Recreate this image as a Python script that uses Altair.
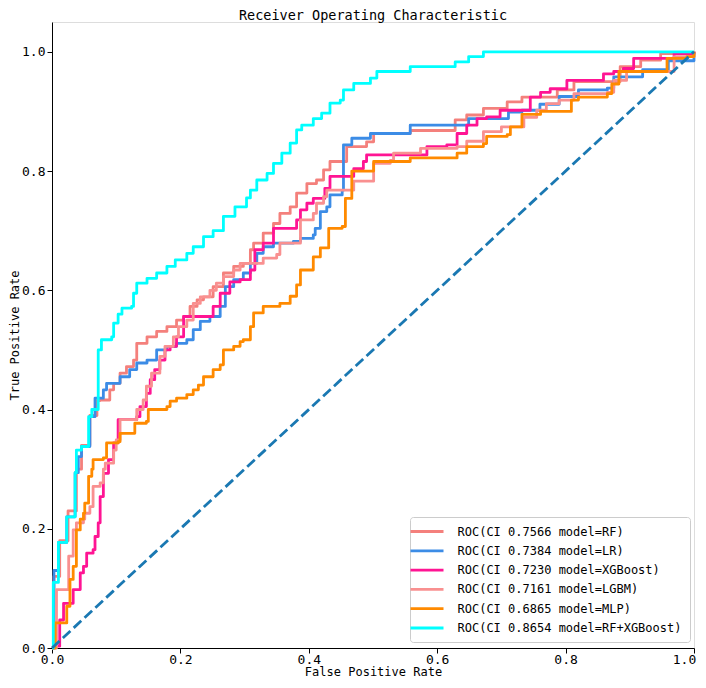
import altair as alt
import pandas as pd

# ---- data ----
labels = [
    "ROC(CI 0.7566 model=RF)",
    "ROC(CI 0.7384 model=LR)",
    "ROC(CI 0.7230 model=XGBoost)",
    "ROC(CI 0.7161 model=LGBM)",
    "ROC(CI 0.6865 model=MLP)",
    "ROC(CI 0.8654 model=RF+XGBoost)",
]
colors = ["#F4807C", "#3C8CE6", "#FF1493", "#F99090", "#FF8A00", "#00FFFF"]

rf_fpr = [0, 0.003, 0.012, 0.025, 0.038, 0.046, 0.059, 0.07, 0.075, 0.09, 0.096, 0.106, 0.116, 0.127, 0.132, 0.148, 0.163, 0.179, 0.194, 0.205, 0.215, 0.226, 0.236, 0.251, 0.267, 0.283, 0.298, 0.309, 0.314, 0.329, 0.345, 0.355, 0.371, 0.381, 0.397, 0.412, 0.423, 0.433, 0.454, 0.459, 0.49, 0.501, 0.558, 0.628, 0.628, 0.646, 0.672, 0.709, 0.732, 0.787, 0.813, 0.875, 0.885, 0.917, 0.948, 1.0]
rf_tpr = [0, 0.12, 0.18, 0.23, 0.30, 0.34, 0.39, 0.415, 0.416, 0.433, 0.444, 0.461, 0.472, 0.483, 0.511, 0.522, 0.531, 0.539, 0.55, 0.556, 0.573, 0.584, 0.589, 0.606, 0.629, 0.64, 0.645, 0.668, 0.679, 0.696, 0.712, 0.729, 0.74, 0.763, 0.779, 0.785, 0.802, 0.816, 0.816, 0.841, 0.849, 0.863, 0.868, 0.877, 0.886, 0.894, 0.905, 0.916, 0.924, 0.936, 0.95, 0.95, 0.975, 0.986, 0.997, 1.0]

lr_fpr = [0, 0.003, 0.01, 0.023, 0.036, 0.041, 0.046, 0.059, 0.067, 0.08, 0.085, 0.106, 0.121, 0.132, 0.148, 0.163, 0.179, 0.194, 0.21, 0.22, 0.231, 0.246, 0.262, 0.27, 0.283, 0.298, 0.309, 0.319, 0.329, 0.345, 0.376, 0.387, 0.407, 0.41, 0.418, 0.418, 0.428, 0.433, 0.452, 0.454, 0.467, 0.496, 0.558, 0.558, 0.646, 0.649, 0.709, 0.711, 0.732, 0.76, 0.79, 0.82, 0.865, 0.875, 0.92, 0.96, 1.0]
lr_tpr = [0, 0.13, 0.177, 0.22, 0.294, 0.321, 0.338, 0.388, 0.419, 0.433, 0.444, 0.455, 0.467, 0.478, 0.483, 0.50, 0.506, 0.511, 0.517, 0.534, 0.548, 0.556, 0.573, 0.606, 0.618, 0.629, 0.645, 0.662, 0.673, 0.679, 0.682, 0.687, 0.693, 0.704, 0.718, 0.732, 0.74, 0.76, 0.768, 0.844, 0.855, 0.863, 0.866, 0.877, 0.877, 0.888, 0.888, 0.899, 0.902, 0.912, 0.925, 0.936, 0.939, 0.958, 0.97, 0.985, 1.0]

xgb_fpr = [0, 0.002, 0.012, 0.018, 0.031, 0.033, 0.044, 0.049, 0.054, 0.064, 0.067, 0.072, 0.075, 0.08, 0.088, 0.096, 0.103, 0.132, 0.137, 0.147, 0.153, 0.16, 0.168, 0.176, 0.184, 0.194, 0.205, 0.246, 0.251, 0.262, 0.277, 0.293, 0.309, 0.316, 0.329, 0.345, 0.374, 0.381, 0.387, 0.397, 0.407, 0.423, 0.425, 0.433, 0.454, 0.47, 0.485, 0.49, 0.568, 0.584, 0.615, 0.631, 0.646, 0.662, 0.677, 0.698, 0.732, 0.745, 0.761, 0.776, 0.802, 0.833, 0.859, 0.875, 0.89, 0.906, 0.948, 0.969, 1.0]
xgb_tpr = [0, 0.003, 0.047, 0.075, 0.075, 0.098, 0.126, 0.137, 0.159, 0.165, 0.187, 0.21, 0.254, 0.293, 0.316, 0.344, 0.383, 0.388, 0.405, 0.427, 0.45, 0.467, 0.483, 0.50, 0.506, 0.522, 0.556, 0.556, 0.573, 0.595, 0.614, 0.618, 0.634, 0.668, 0.679, 0.704, 0.704, 0.718, 0.735, 0.746, 0.754, 0.754, 0.771, 0.791, 0.791, 0.804, 0.816, 0.827, 0.827, 0.841, 0.844, 0.863, 0.877, 0.888, 0.891, 0.902, 0.902, 0.924, 0.932, 0.938, 0.952, 0.952, 0.963, 0.967, 0.972, 0.989, 0.989, 0.997, 1.0]

lgbm_fpr = [0, 0.007, 0.02, 0.026, 0.033, 0.038, 0.049, 0.051, 0.059, 0.064, 0.075, 0.08, 0.083, 0.093, 0.096, 0.1, 0.106, 0.106, 0.127, 0.132, 0.142, 0.147, 0.155, 0.168, 0.176, 0.189, 0.197, 0.21, 0.22, 0.231, 0.246, 0.256, 0.267, 0.283, 0.293, 0.314, 0.329, 0.35, 0.355, 0.387, 0.387, 0.407, 0.412, 0.423, 0.428, 0.465, 0.47, 0.498, 0.501, 0.527, 0.532, 0.574, 0.631, 0.646, 0.672, 0.7, 0.735, 0.755, 0.77, 0.79, 0.813, 0.865, 0.875, 0.895, 0.927, 0.969, 1.0]
lgbm_tpr = [0, 0.098, 0.098, 0.154, 0.198, 0.21, 0.216, 0.226, 0.237, 0.271, 0.277, 0.30, 0.31, 0.31, 0.332, 0.349, 0.366, 0.383, 0.383, 0.40, 0.416, 0.439, 0.461, 0.489, 0.506, 0.522, 0.539, 0.55, 0.578, 0.589, 0.60, 0.612, 0.623, 0.634, 0.645, 0.645, 0.654, 0.66, 0.679, 0.69, 0.718, 0.729, 0.746, 0.757, 0.768, 0.768, 0.783, 0.783, 0.813, 0.818, 0.83, 0.838, 0.841, 0.85, 0.866, 0.874, 0.89, 0.902, 0.913, 0.919, 0.93, 0.932, 0.952, 0.967, 0.967, 0.992, 1.0]

mlp_fpr = [0, 0.005, 0.02, 0.023, 0.028, 0.033, 0.038, 0.044, 0.049, 0.051, 0.057, 0.062, 0.064, 0.08, 0.085, 0.103, 0.106, 0.127, 0.129, 0.147, 0.15, 0.179, 0.184, 0.194, 0.21, 0.22, 0.228, 0.236, 0.251, 0.262, 0.267, 0.283, 0.293, 0.298, 0.309, 0.314, 0.329, 0.355, 0.371, 0.381, 0.387, 0.407, 0.418, 0.431, 0.452, 0.457, 0.467, 0.467, 0.498, 0.501, 0.558, 0.631, 0.646, 0.672, 0.677, 0.709, 0.714, 0.732, 0.761, 0.807, 0.809, 0.82, 0.865, 0.872, 0.883, 0.927, 0.958, 0.989, 1.0]
mlp_tpr = [0, 0.042, 0.042, 0.07, 0.115, 0.137, 0.198, 0.216, 0.226, 0.243, 0.288, 0.30, 0.316, 0.319, 0.344, 0.346, 0.36, 0.36, 0.377, 0.38, 0.40, 0.405, 0.414, 0.419, 0.425, 0.433, 0.441, 0.455, 0.467, 0.475, 0.50, 0.506, 0.514, 0.517, 0.539, 0.562, 0.573, 0.578, 0.59, 0.609, 0.634, 0.656, 0.671, 0.704, 0.707, 0.754, 0.763, 0.80, 0.80, 0.816, 0.822, 0.83, 0.841, 0.846, 0.858, 0.861, 0.874, 0.895, 0.90, 0.90, 0.919, 0.924, 0.93, 0.946, 0.967, 0.967, 0.989, 0.992, 1.0]

ens_fpr = [0, 0.002, 0.01, 0.023, 0.036, 0.038, 0.046, 0.057, 0.062, 0.072, 0.072, 0.077, 0.093, 0.096, 0.103, 0.109, 0.124, 0.127, 0.132, 0.148, 0.163, 0.179, 0.192, 0.21, 0.22, 0.236, 0.251, 0.267, 0.285, 0.303, 0.309, 0.319, 0.335, 0.345, 0.358, 0.371, 0.381, 0.389, 0.407, 0.42, 0.433, 0.449, 0.454, 0.47, 0.496, 0.506, 0.558, 0.628, 0.649, 0.672, 1.0]
ens_tpr = [0, 0.11, 0.177, 0.22, 0.294, 0.332, 0.338, 0.388, 0.40, 0.40, 0.50, 0.517, 0.522, 0.545, 0.56, 0.57, 0.573, 0.595, 0.612, 0.62, 0.629, 0.64, 0.651, 0.662, 0.673, 0.69, 0.70, 0.724, 0.74, 0.755, 0.768, 0.785, 0.796, 0.813, 0.83, 0.847, 0.869, 0.877, 0.888, 0.897, 0.914, 0.919, 0.936, 0.947, 0.956, 0.967, 0.975, 0.983, 0.992, 1.0, 1.0]

diag_x = [0.0, 1.0]
diag_y = [0.0, 1.0]

tick_values = [0, 0.2, 0.4, 0.6, 0.8, 1.0]

series = [
    (labels[0], rf_fpr, rf_tpr),
    (labels[1], lr_fpr, lr_tpr),
    (labels[2], xgb_fpr, xgb_tpr),
    (labels[3], lgbm_fpr, lgbm_tpr),
    (labels[4], mlp_fpr, mlp_tpr),
    (labels[5], ens_fpr, ens_tpr),
]

frames = []
for lab, fx, fy in series:
    frames.append(pd.DataFrame({"fpr": fx, "tpr": fy, "model": lab, "idx": list(range(len(fx)))}))
df = pd.concat(frames, ignore_index=True)
diag = pd.DataFrame({"fpr": diag_x, "tpr": diag_y})

MONO = "DejaVu Sans Mono"

x_enc = alt.X(
    "fpr:Q",
    scale=alt.Scale(domain=[0, 1], nice=False, zero=False),
    axis=alt.Axis(
        values=tick_values, format=".1f", grid=False,
        title="False Positive Rate", titleFont=MONO, titleFontSize=12,
        titleFontWeight="normal", titleColor="black", titlePadding=0,
        labelFont=MONO, labelFontSize=13, labelColor="black", labelPadding=0,
        labelOffset={"condition": {"test": "datum.value >= 1", "value": -10}, "value": 0},
        tickSize=5, tickColor="black", domainColor="black", labelFlush=False,
    ),
)
y_enc = alt.Y(
    "tpr:Q",
    scale=alt.Scale(domain=[0, 1.05], nice=False, zero=False),
    axis=alt.Axis(
        values=tick_values, format=".1f", grid=False,
        title="True Positive Rate", titleFont=MONO, titleFontSize=12,
        titleFontWeight="normal", titleColor="black", titlePadding=0,
        labelFont=MONO, labelFontSize=13, labelColor="black", labelPadding=2,
        tickSize=5, tickColor="black", domainColor="black", labelFlush=False,
    ),
)

color_enc = alt.Color(
    "model:N",
    scale=alt.Scale(domain=labels, range=colors),
    sort=labels,
    legend=alt.Legend(
        title=None, orient="none", legendX=358, legendY=495,
        fillColor="white", strokeColor="#cccccc", cornerRadius=3, padding=8,
        symbolType="M-3.3,0H3.3", symbolSize=100, symbolStrokeWidth=2.8,
        symbolOffset=2.5, labelOffset=24, rowPadding=6.3,
        labelFont=MONO, labelFontSize=12, labelColor="black", labelLimit=0,
    ),
)

layers = []
for lab, _, _ in series:
    layers.append(
        alt.Chart(df)
        .transform_filter(alt.datum.model == lab)
        .mark_line(strokeWidth=2.8, interpolate="step-after", strokeJoin="round")
        .encode(x=x_enc, y=y_enc, color=color_enc, order=alt.Order("idx:Q"))
    )

diag_layer = (
    alt.Chart(diag)
    .mark_line(color="#1a78b2", strokeWidth=2.8, strokeDash=[10.3, 4.5])
    .encode(x="fpr:Q", y="tpr:Q")
)

chart = (
    alt.layer(*layers, diag_layer)
    .properties(
        width=642, height=626,
        title=alt.TitleParams(
            "Receiver Operating Characteristic", font=MONO, fontSize=13.5,
            fontWeight="normal", color="black", anchor="middle", offset=-0.5,
        ),
        autosize=alt.AutoSizeParams(type="none"),
        padding={"left": 44, "top": 14, "right": 4, "bottom": 30},
    )
    .configure_view(stroke="black", strokeWidth=1)
    .configure(background="white")
)

chart.save("out.html", embed_options={"renderer": "svg", "actions": False})
